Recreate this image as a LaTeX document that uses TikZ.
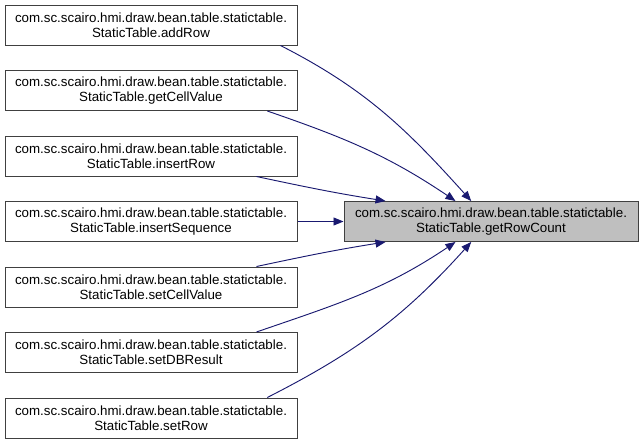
\documentclass[tikz,border=0pt]{standalone}
\usepackage{fontspec}
\setmainfont{Liberation Sans}
\usetikzlibrary{arrows.meta}
\definecolor{edgeblue}{HTML}{191970}
\definecolor{boxline}{HTML}{404040}
\definecolor{hilite}{HTML}{BFBFBF}

\begin{document}
\begin{tikzpicture}[x=0.75pt,y=0.75pt,
    caller/.style={draw=boxline,line width=0.75pt,fill=white,align=center,minimum width=219pt,minimum height=30pt,inner sep=0pt,font=\fontsize{10}{11}\selectfont},
    callee/.style={caller,fill=hilite,minimum width=220.5pt},
    call/.style={edgeblue,line width=0.7pt,-{Triangle[length=7.5pt,width=6pt]}}]
    \useasboundingbox (0,0) rectangle (643,-444);
    \node[callee] (rowcount) at (491,-221.5) {com.sc.scairo.hmi.draw.bean.table.statictable.\\StaticTable.getRowCount};
    \foreach \n/\t [count=\i] in {addrow/addRow, getcell/getCellValue, insrow/insertRow, insseq/insertSequence, setcell/setCellValue, setdb/setDBResult, setrow/setRow}{
      \node[caller] (\n) at (151,{-25-65.5*(\i-1)}) {com.sc.scairo.hmi.draw.bean.table.statictable.\\StaticTable.\t};
    }
    \foreach \n/\s/\e/\oa/\ia in {addrow/-9.7/134.7/-27/132, getcell/-10.8/150.4/-19/146, insrow/-11.4/169.4/-12/171,
      insseq/east/west/0/180, setcell/11.4/-169.4/12/-171, setdb/11.2/-150.4/19/-146, setrow/10/-134.7/27/-132}{
      \draw[call] (\n.\s) to[out=\oa,in=\ia] (rowcount.\e);
    }
  \end{tikzpicture}
\end{document}
